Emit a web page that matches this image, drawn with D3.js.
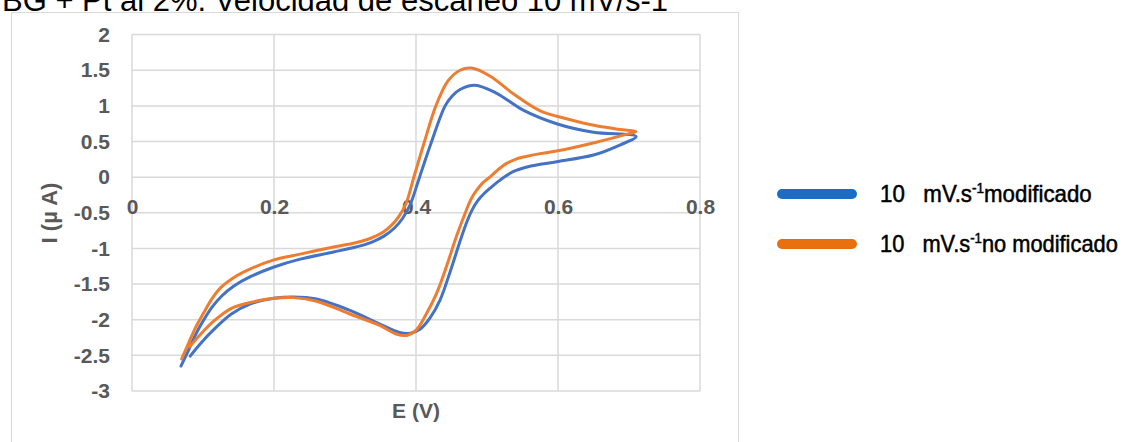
<!DOCTYPE html>
<html>
<head>
<meta charset="utf-8">
<script src="https://cdn.jsdelivr.net/npm/d3@7"></script>
<style>
  html, body { margin: 0; padding: 0; background: #ffffff; }
  svg { display: block; }
</style>
</head>
<body>
<svg id="chart" width="1125" height="442"></svg>
<script>
// Cyclic voltammogram, 10 mV/s: modified vs. unmodified electrode
const titleText = "BG + Pt al 2%. Velocidad de escaneo 10 mV/s-1";

// Potential (V) and current (µA) along the sweep, modified electrode
const E_mod = [0.069, 0.080, 0.090, 0.100, 0.113, 0.126, 0.143, 0.166, 0.200, 0.237, 0.284, 0.315, 0.338, 0.356, 0.370, 0.381, 0.392, 0.405, 0.422, 0.441, 0.451, 0.462, 0.483, 0.513, 0.551, 0.598, 0.650, 0.710,
               0.687, 0.650, 0.600, 0.575, 0.555, 0.540, 0.527, 0.516, 0.505, 0.496, 0.487, 0.478, 0.470, 0.462, 0.448, 0.434, 0.420, 0.406, 0.392, 0.377, 0.349, 0.307, 0.260, 0.227, 0.200, 0.166, 0.140, 0.115, 0.096, 0.082];
const I_mod = [-2.65, -2.42, -2.20, -2.02, -1.82, -1.67, -1.53, -1.40, -1.26, -1.15, -1.05, -0.98, -0.91, -0.82, -0.71, -0.58, -0.38, 0.00, 0.50, 1.00, 1.14, 1.23, 1.29, 1.18, 0.94, 0.75, 0.63, 0.57,
               0.45, 0.31, 0.22, 0.18, 0.14, 0.09, 0.02, -0.06, -0.15, -0.23, -0.33, -0.48, -0.67, -0.90, -1.33, -1.72, -1.97, -2.13, -2.19, -2.18, -2.06, -1.87, -1.71, -1.68, -1.70, -1.78, -1.92, -2.14, -2.34, -2.51];

// Potential (V) and current (µA) along the sweep, unmodified electrode
const E_nomod = [0.070, 0.080, 0.090, 0.100, 0.113, 0.126, 0.143, 0.166, 0.200, 0.237, 0.284, 0.315, 0.338, 0.354, 0.366, 0.376, 0.386, 0.397, 0.412, 0.428, 0.445, 0.462, 0.478, 0.504, 0.537, 0.575, 0.612, 0.654, 0.687, 0.710,
                 0.696, 0.654, 0.600, 0.575, 0.555, 0.540, 0.527, 0.515, 0.504, 0.494, 0.485, 0.478, 0.471, 0.457, 0.443, 0.429, 0.415, 0.400, 0.387, 0.372, 0.349, 0.307, 0.260, 0.227, 0.200, 0.170, 0.140, 0.115, 0.095, 0.081];
const I_nomod = [-2.55, -2.32, -2.10, -1.92, -1.70, -1.54, -1.41, -1.29, -1.16, -1.08, -0.98, -0.92, -0.85, -0.77, -0.67, -0.55, -0.37, 0.00, 0.50, 1.00, 1.35, 1.50, 1.53, 1.42, 1.17, 0.93, 0.82, 0.72, 0.67, 0.64,
                 0.60, 0.49, 0.37, 0.33, 0.29, 0.25, 0.19, 0.10, 0.00, -0.08, -0.19, -0.30, -0.46, -0.83, -1.25, -1.63, -1.91, -2.15, -2.22, -2.20, -2.08, -1.92, -1.74, -1.69, -1.70, -1.75, -1.84, -2.02, -2.22, -2.38];

const xTicks = [0, 0.2, 0.4, 0.6, 0.8];
const yTicks = [-3, -2.5, -2, -1.5, -1, -0.5, 0, 0.5, 1, 1.5, 2];
const seriesNames = ["modificado", "no modificado"];
const xTitle = "E (V)";
const yTitle = "I (\u00b5 A)";

const svg = d3.select("#chart");
const gridColor = "#d9d9d9";
const labelColor = "#595959";
const lineColors = ["#4472c4", "#ed7d31"];
const legendColors = ["#1a6cc4", "#e8700f"];

// Title (runs past the top edge of the page)
svg.append("text")
  .attr("x", 2).attr("y", 11)
  .attr("font-family", "Liberation Sans, Arial, sans-serif")
  .attr("font-size", 31)
  .attr("fill", "#000")
  .text(titleText);

// Chart frame
svg.append("rect")
  .attr("x", 11.5).attr("y", 12.5)
  .attr("width", 727).attr("height", 460)
  .attr("fill", "#fff")
  .attr("stroke", gridColor).attr("stroke-width", 1);

const x = d3.scaleLinear().domain([0, 0.8]).range([132, 700]);
const y = d3.scaleLinear().domain([-3, 2]).range([391, 34.6]);

// Gridlines
const grid = svg.append("g").attr("stroke", gridColor).attr("stroke-width", 1.5);
grid.selectAll("line.h").data(yTicks).join("line")
  .attr("x1", x(0)).attr("x2", x(0.8))
  .attr("y1", d => y(d)).attr("y2", d => y(d));
grid.selectAll("line.v").data(xTicks).join("line")
  .attr("x1", d => x(d)).attr("x2", d => x(d))
  .attr("y1", y(2)).attr("y2", y(-3));

const fmt = d => String(d);

// Y axis labels
const yAxis = svg.append("g")
  .attr("transform", `translate(${x(0)},0)`)
  .call(d3.axisLeft(y).tickValues(yTicks).tickFormat(fmt).tickSize(0).tickPadding(22));
yAxis.select(".domain").remove();
yAxis.selectAll("text")
  .attr("font-family", "Liberation Sans, Arial, sans-serif")
  .attr("font-weight", "bold").attr("font-size", 21)
  .attr("fill", labelColor);

// X axis labels, crossing at I = 0
const xAxis = svg.append("g")
  .attr("transform", `translate(0,${y(0)})`)
  .call(d3.axisBottom(x).tickValues(xTicks).tickFormat(fmt).tickSize(0).tickPadding(22));
xAxis.select(".domain").remove();
xAxis.selectAll("text")
  .attr("font-family", "Liberation Sans, Arial, sans-serif")
  .attr("font-weight", "bold").attr("font-size", 21)
  .attr("fill", labelColor);

// Axis titles
svg.append("text")
  .attr("x", (x(0) + x(0.8)) / 2).attr("y", 418)
  .attr("text-anchor", "middle")
  .attr("font-family", "Liberation Sans, Arial, sans-serif")
  .attr("font-weight", "bold").attr("font-size", 21)
  .attr("fill", labelColor)
  .text(xTitle);
svg.append("text")
  .attr("transform", "translate(57,213) rotate(-90)")
  .attr("text-anchor", "middle")
  .attr("font-family", "Liberation Sans, Arial, sans-serif")
  .attr("font-weight", "bold").attr("font-size", 22)
  .attr("fill", labelColor)
  .text(yTitle);

// Curves
const line = d3.line()
  .x(d => x(d[0])).y(d => y(d[1]))
  .curve(d3.curveCatmullRom.alpha(0.5));
const series = [
  d3.zip(E_mod, I_mod),
  d3.zip(E_nomod, I_nomod)
];
svg.append("g").selectAll("path").data(series).join("path")
  .attr("d", line)
  .attr("fill", "none")
  .attr("stroke", (d, i) => lineColors[i])
  .attr("stroke-width", 3)
  .attr("stroke-linejoin", "round")
  .attr("stroke-linecap", "round");

// Legend (condensed text)
const legendY = [194, 244];
const legendWidths = [212, 238];
seriesNames.forEach((name, i) => {
  const g = svg.append("g");
  g.append("line")
    .attr("x1", 782).attr("x2", 852)
    .attr("y1", legendY[i]).attr("y2", legendY[i])
    .attr("stroke", legendColors[i]).attr("stroke-width", 10)
    .attr("stroke-linecap", "round");
  const t = g.append("text")
    .attr("font-family", "Liberation Sans Narrow, Liberation Sans, Arial, sans-serif")
    .attr("font-size", 23)
    .attr("fill", "#000")
    .attr("stroke", "#000").attr("stroke-width", 0.5);
  t.append("tspan").text("10\u00a0\u00a0 mV.s");
  t.append("tspan").attr("font-size", 14).attr("dy", -9).text("-1");
  t.append("tspan").attr("dy", 9).text(name);
  const w = t.node().getComputedTextLength();
  const k = legendWidths[i] / w;
  t.attr("transform", `translate(880,${legendY[i] + 8}) scale(${k},1)`);
});
</script>
</body>
</html>
